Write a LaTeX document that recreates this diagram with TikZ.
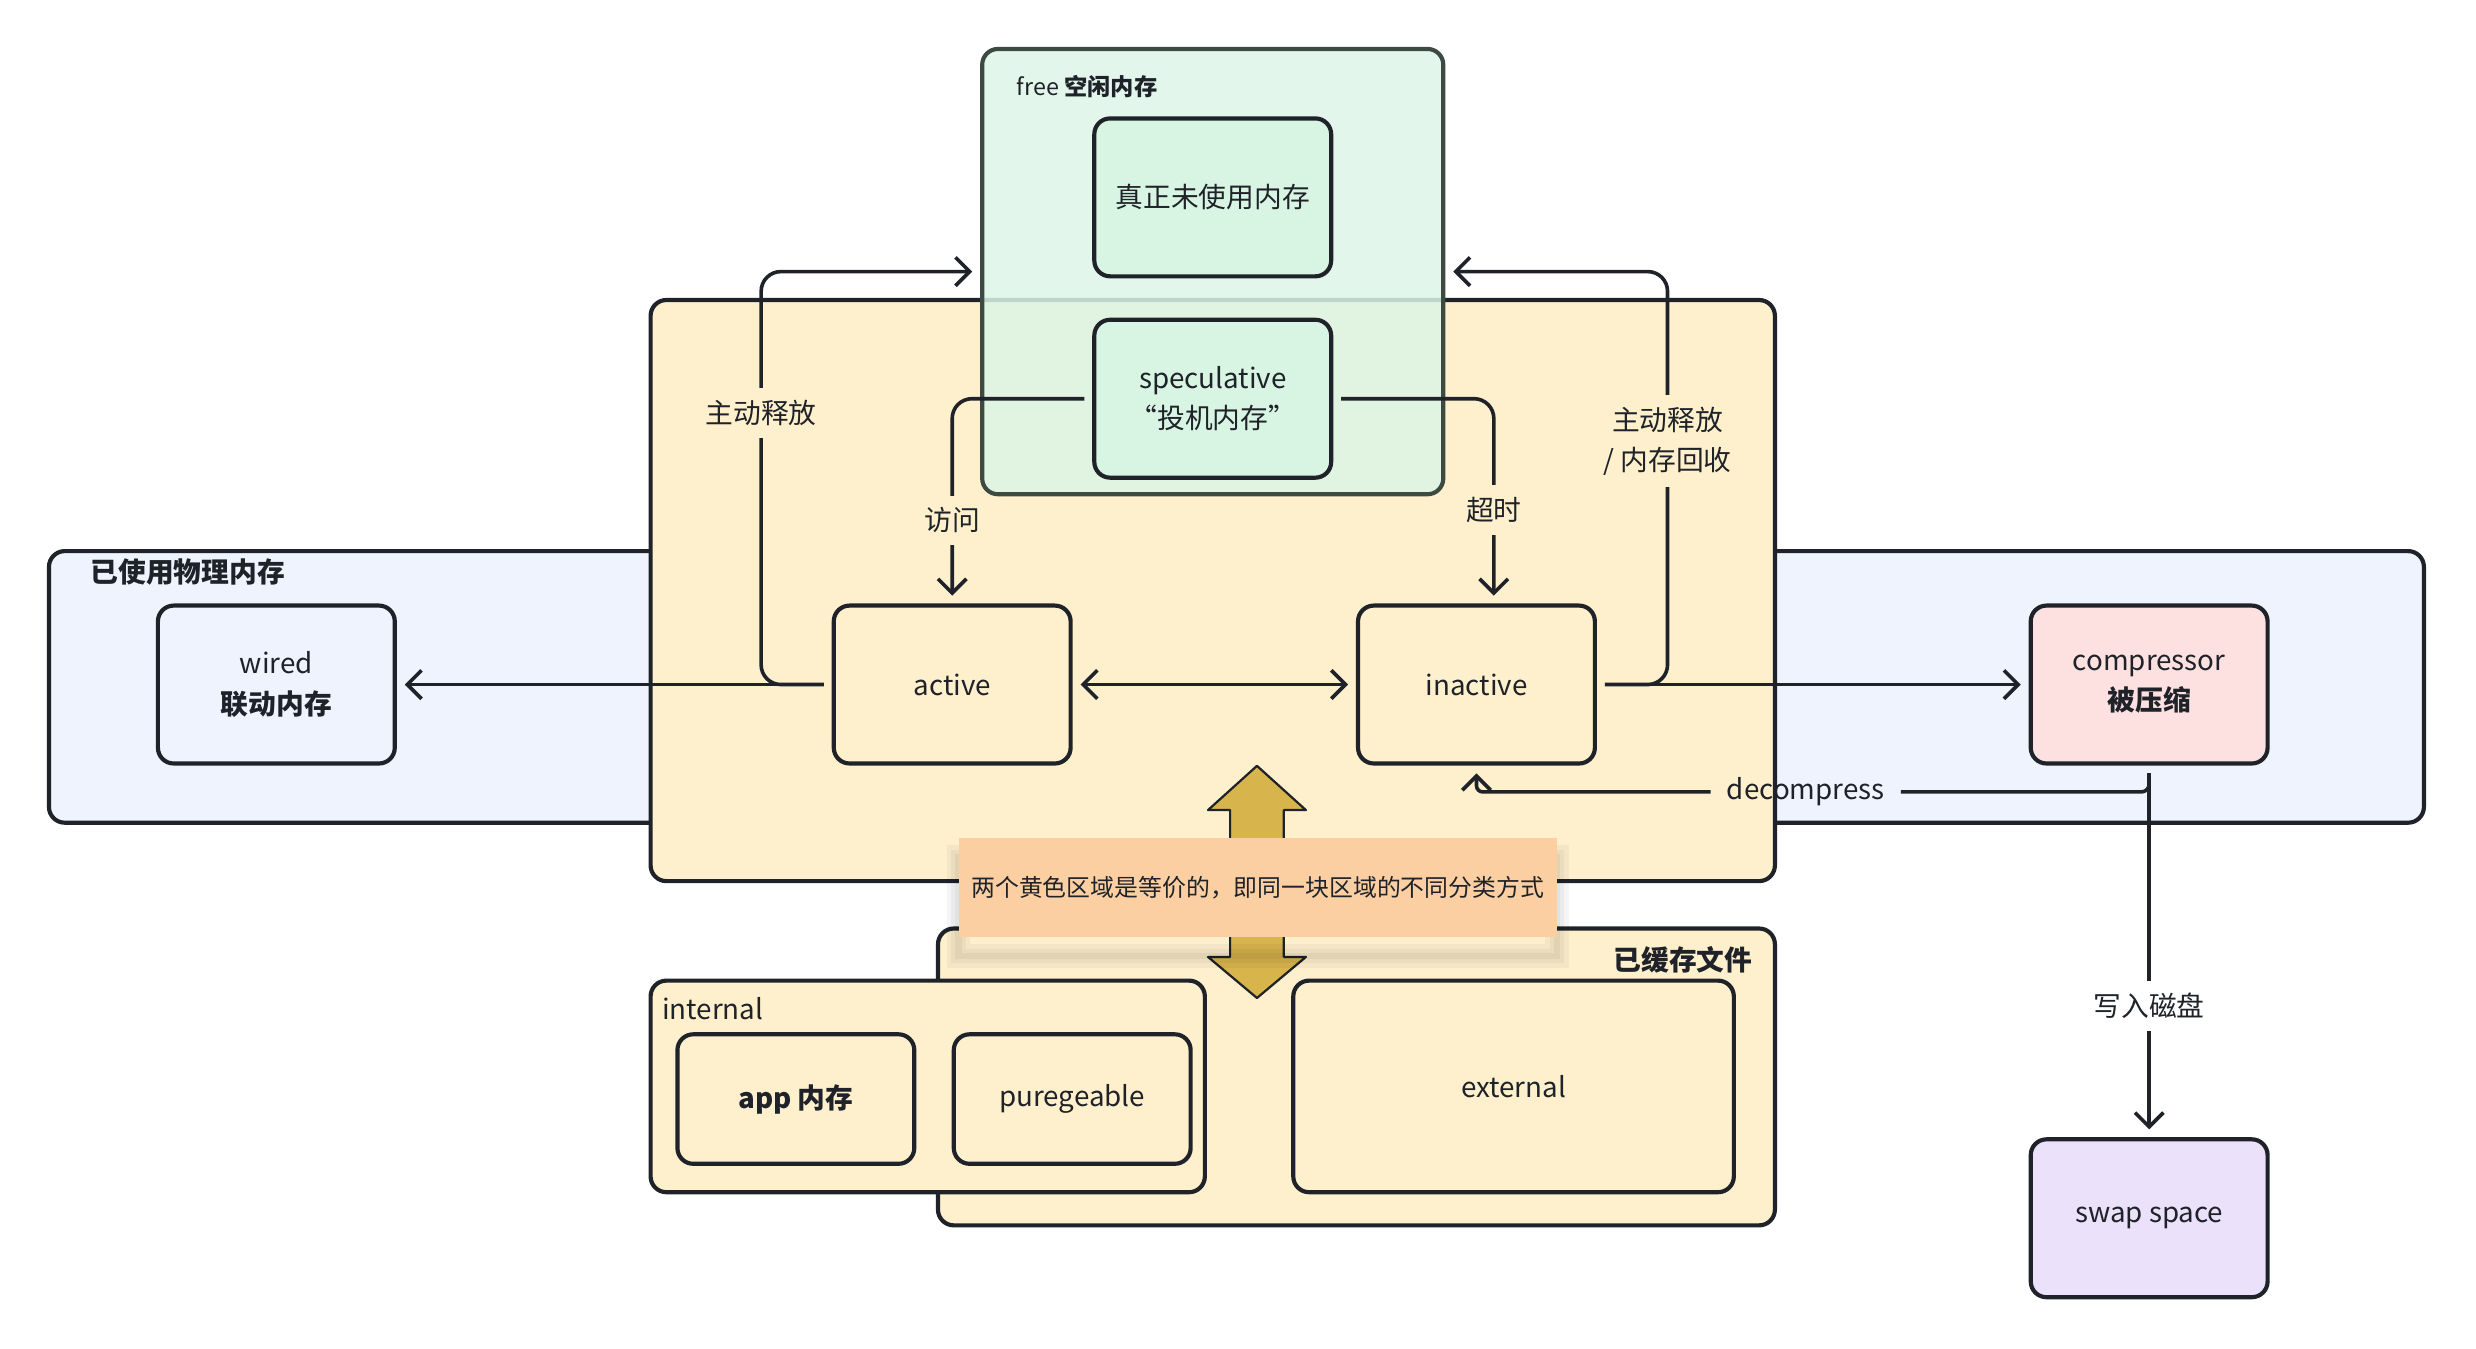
\documentclass[tikz,border=0pt]{standalone}
\usepackage{fontspec}
\setmainfont{Noto Sans CJK SC}
\usetikzlibrary{arrows.meta}

\definecolor{usedblue}{HTML}{EEF3FE}
\definecolor{memyellow}{HTML}{FEF0CC}
\definecolor{freegreen}{HTML}{DDF5E7}
\definecolor{boxgreen}{HTML}{D8F5E4}
\definecolor{comppink}{HTML}{FDE1E1}
\definecolor{swaplilac}{HTML}{EBE1FA}
\definecolor{noteorange}{HTML}{FBCFA2}
\definecolor{goldarrow}{HTML}{D8B44C}
\definecolor{inkc}{HTML}{1F2329}
\definecolor{greenedge}{HTML}{3C4A42}

\tikzset{
  >={Straight Barb[length=0.18cm,width=0.36cm]},
  region/.style={draw=inkc, line width=1.5pt, rounded corners=0.2cm, inner sep=0pt},
  membox/.style={draw=inkc, line width=1.5pt, rounded corners=0.2cm, minimum width=3cm,
    minimum height=2cm, align=center, text=inkc, font=\fontsize{10}{14.5}\selectfont},
  conn/.style={draw=inkc, line width=1.3pt, ->, shorten <=0.1cm, shorten >=0.1cm,
    rounded corners=0.25cm},
  lbl/.style={text=inkc, font=\fontsize{10}{14.5}\selectfont, align=center, inner sep=0.15cm},
  softshadow/.style={
    preaction={draw=black, draw opacity=0.04, line width=0.3cm, transform canvas={yshift=-0.24cm}},
    preaction={draw=black, draw opacity=0.04, line width=0.18cm, transform canvas={yshift=-0.24cm}},
    preaction={draw=black, draw opacity=0.04, line width=0.08cm, transform canvas={yshift=-0.24cm}}},
}

\begin{document}
\begin{tikzpicture}
\useasboundingbox (0,0) rectangle (31.36,17.08);

% regions
\node[region, fill=usedblue, minimum width=30.08cm, minimum height=3.44cm] (used) at (15.66,8.38) {};
\node[lbl, font=\bfseries\fontsize{10}{12}\selectfont, anchor=west, inner sep=0pt] (usedlbl) at (1.14,9.84) {已使用物理内存};
\node[region, fill=memyellow, minimum width=14.24cm, minimum height=7.36cm] (paged) at (15.36,9.60) {};
\node[region, draw=greenedge, fill=freegreen, fill opacity=0.85, minimum width=5.84cm, minimum height=5.64cm] (free) at (15.36,13.64) {};
\node[lbl, font=\fontsize{8.4}{10}\selectfont, anchor=west, inner sep=0pt] (freelbl) at (12.87,15.98) {free \textbf{空闲内存}};

\node[region, fill=memyellow, minimum width=10.6cm, minimum height=3.76cm] (cached) at (17.18,3.44) {};
\node[lbl, font=\bfseries\fontsize{10}{12}\selectfont, anchor=east, inner sep=0pt] (cachedlbl) at (22.2,4.92) {已缓存文件};
\node[region, fill=memyellow, minimum width=7.02cm, minimum height=2.68cm] (internal) at (11.75,3.32) {};
\node[lbl, anchor=west, inner sep=0pt] (internallbl) at (8.38,4.31) {internal};

% pages
\node[membox, fill=boxgreen] (unused) at (15.36,14.58) {真正未使用内存};
\node[membox, fill=boxgreen] (spec) at (15.36,12.03) {speculative\\“投机内存”};
\node[membox, fill=usedblue] (wired) at (3.5,8.41) {wired\\\textbf{联动内存}};
\node[membox, fill=memyellow] (active) at (12.06,8.41) {active};
\node[membox, fill=memyellow] (inactive) at (18.70,8.41) {inactive};
\node[membox, fill=comppink] (compressor) at (27.22,8.41) {compressor\\\textbf{被压缩}};
\node[membox, fill=swaplilac] (swap) at (27.22,1.65) {swap space};
\node[membox, fill=memyellow, minimum height=1.64cm] (app) at (10.08,3.16) {\textbf{app 内存}};
\node[membox, fill=memyellow, minimum height=1.64cm] (puregeable) at (13.58,3.16) {puregeable};
\node[membox, fill=memyellow, minimum width=5.58cm, minimum height=2.68cm] (external) at (19.17,3.32) {external};

% transitions
\coordinate (relL) at (9.64,13.64);
\coordinate (relR) at (21.12,13.64);
\draw[conn] (active.west) -- (wired.east);
\draw[conn] (active.west) -| (relL) -- (free.west);
\draw[conn] (inactive.east) -| (relR) -- (free.east);
\draw[conn, <->] (active) -- (inactive);
\draw[conn] (inactive.east) -- (compressor.west);
\draw[conn] (spec.west) -| (active.north);
\draw[conn] (spec.east) -| ([xshift=0.22cm]inactive.north);
\draw[conn] (compressor.south) -- (swap.north);

\node[lbl, inner xsep=0.2cm] (decomp) at (22.87,7.05) {decompress};
\draw[conn, -, shorten >=0pt, rounded corners=0.1cm] (compressor.south) |- (decomp.east);
\draw[conn, shorten <=0pt, rounded corners=0.08cm] (decomp.west) -| (inactive.south);

\node[lbl, fill=memyellow] (relLlbl) at (9.64,11.85) {主动释放};
\node[lbl, fill=memyellow] (relRlbl) at (21.12,11.49) {主动释放\\/ 内存回收};
\node[lbl, fill=memyellow] (visitlbl) at (12.06,10.49) {访问};
\node[lbl, fill=memyellow] (timeoutlbl) at (18.92,10.62) {超时};
\node[lbl, fill=white] (swaplbl) at (27.22,4.34) {写入磁盘};

% same area, two views
\draw[draw=inkc, line width=0.8pt, fill=goldarrow, line join=round]
  (15.92,7.38) -- (16.54,6.82) -- (16.26,6.82) -- (16.26,4.96) -- (16.54,4.96) -- (15.92,4.44)
  -- (15.30,4.96) -- (15.58,4.96) -- (15.58,6.82) -- (15.30,6.82) -- cycle;
\node[fill=noteorange, softshadow, minimum width=7.58cm, minimum height=1.26cm, text=inkc,
  font=\fontsize{8.6}{10}\selectfont] (note) at (15.93,5.84) {两个黄色区域是等价的，即同一块区域的不同分类方式};

\end{tikzpicture}
\end{document}
